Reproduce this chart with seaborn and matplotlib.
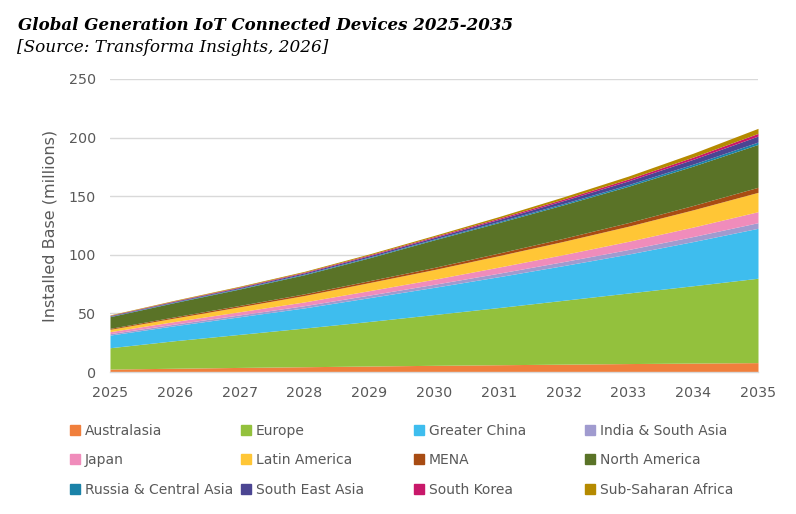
import matplotlib
matplotlib.use("Agg")
import matplotlib.pyplot as plt
import seaborn as sns
from matplotlib.lines import Line2D

years = [2025, 2026, 2027, 2028, 2029, 2030, 2031, 2032, 2033, 2034, 2035]

regions = ["Australasia", "Europe", "Greater China", "India & South Asia",
           "Japan", "Latin America", "MENA", "North America",
           "Russia & Central Asia", "South East Asia", "South Korea",
           "Sub-Saharan Africa"]

australasia = [2.5, 3.2, 3.9, 4.5, 5.1, 5.7, 6.2, 6.7, 7.2, 7.6, 8.0]
europe = [18.2, 23.5, 28.2, 33.0, 38.0, 43.3, 48.8, 54.5, 60.2, 66.0, 72.0]
greater_china = [10.8, 12.8, 15.0, 17.2, 20.3, 23.2, 26.3, 29.6, 33.2, 37.7, 42.6]
india_south_asia = [1.2, 1.4, 1.6, 1.9, 2.2, 2.6, 3.0, 3.4, 3.9, 4.3, 4.8]
japan = [1.7, 2.2, 2.7, 3.2, 3.8, 4.3, 5.2, 6.0, 7.0, 8.1, 9.4]
latin_america = [2.0, 3.0, 4.2, 5.5, 6.9, 8.3, 9.8, 11.3, 12.9, 14.7, 16.5]
mena = [0.8, 1.0, 1.2, 1.4, 1.6, 1.8, 2.2, 2.6, 3.1, 3.7, 4.3]
north_america = [10.0, 12.2, 14.0, 16.3, 19.5, 23.5, 26.0, 28.6, 31.0, 33.6, 36.6]
russia_central_asia = [0.3, 0.4, 0.5, 0.6, 0.65, 0.7, 0.9, 1.1, 1.4, 1.7, 2.0]
south_east_asia = [0.5, 0.65, 0.8, 1.0, 1.15, 1.3, 1.8, 2.5, 3.2, 4.1, 5.1]
south_korea = [0.3, 0.4, 0.5, 0.6, 0.7, 0.8, 1.0, 1.3, 1.6, 1.9, 2.3]
sub_saharan_africa = [0.4, 0.5, 0.6, 0.7, 0.85, 1.0, 1.4, 1.9, 2.5, 3.3, 4.3]

series = [australasia, europe, greater_china, india_south_asia, japan,
          latin_america, mena, north_america, russia_central_asia,
          south_east_asia, south_korea, sub_saharan_africa]

colors = ["#F07F3C", "#93C13D", "#3EBDEE", "#A09BCF", "#F08CBB", "#FFC636",
          "#A84C13", "#5A7327", "#1A82A8", "#4B4592", "#C8186A", "#B58A00"]

sns.set_style("white")
plt.rcParams["font.family"] = ["DejaVu Sans"]

fig = plt.figure(figsize=(7.96, 5.14), dpi=100)
ax = fig.add_axes([110 / 796, 1 - 372 / 514, 648 / 796, 293 / 514])

ax.stackplot(years, *series, colors=colors, labels=regions, linewidth=0)

ax.set_xlim(2025, 2035)
ax.set_ylim(0, 250)
ax.set_xticks(years)
ax.set_xticklabels([str(y) for y in years])
ax.set_yticks([0, 50, 100, 150, 200, 250])
ax.yaxis.grid(True, color="#D9D9D9", linewidth=1)
ax.set_axisbelow(True)
for s in ["top", "right", "left"]:
    ax.spines[s].set_visible(False)
ax.spines["bottom"].set_color("#D9D9D9")
ax.spines["bottom"].set_linewidth(1)
ax.tick_params(axis="x", which="both", direction="out", length=6, width=1,
               color="#D9D9D9", labelsize=10.3, labelcolor="#595959", pad=4)
ax.tick_params(axis="y", length=0, labelsize=10.3, labelcolor="#595959", pad=10)
ax.set_ylabel("Installed Base (millions)", fontsize=11.5, color="#595959", labelpad=8)

fig.text(18 / 796, 1 - 25 / 514, "Global Generation IoT Connected Devices 2025-2035",
         family="DejaVu Serif", fontweight="bold", style="italic", fontsize=12,
         va="center", ha="left", color="#000000")
fig.text(17 / 796, 1 - 48 / 514, "[Source: Transforma Insights, 2026]",
         family="DejaVu Serif", style="italic", fontsize=12.2,
         va="center", ha="left", color="#000000")

handles = [Line2D([0], [0], marker="s", linestyle="none", markersize=6.5,
                  markerfacecolor=c, markeredgecolor=c) for c in colors]
col_x = [69, 240, 413, 584]
for ci in range(4):
    idx = [ci, ci + 4, ci + 8]
    leg = fig.legend([handles[i] for i in idx], [regions[i] for i in idx],
                     loc="upper left", bbox_to_anchor=(col_x[ci] / 796, 1 - 424 / 514),
                     frameon=False, fontsize=10, handlelength=0.8,
                     handletextpad=0.35, labelspacing=1.1, borderpad=0,
                     borderaxespad=0)
    for t in leg.get_texts():
        t.set_color("#595959")

fig.savefig("out.png", dpi=100)
